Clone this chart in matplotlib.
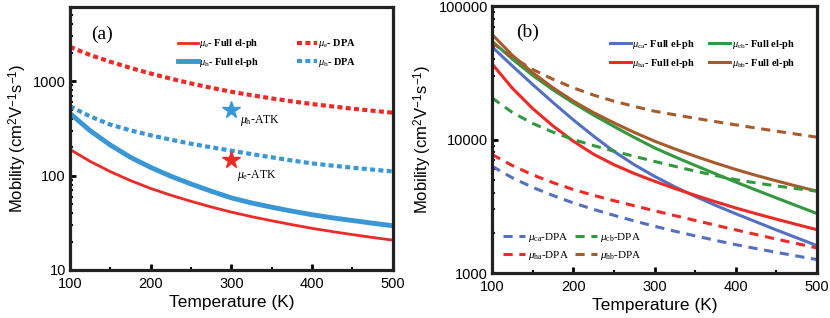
import matplotlib
matplotlib.use("Agg")
import matplotlib.pyplot as plt
from matplotlib.ticker import LogLocator, MultipleLocator, NullFormatter, FuncFormatter

plt.rcParams["font.family"] = "Liberation Sans"
plt.rcParams["mathtext.fontset"] = "custom"
plt.rcParams["mathtext.rm"] = "Liberation Serif"
plt.rcParams["mathtext.it"] = "Liberation Serif:italic"
plt.rcParams["mathtext.bf"] = "Liberation Serif:bold"
plt.rcParams["mathtext.sf"] = "Liberation Sans"

# temperature grid (K)
T = [100, 125, 150, 175, 200, 225, 250, 275, 300, 325, 350, 375, 400, 425, 450, 475, 500]

# panel (a), mobility in cm2/Vs
a_e_full = [189, 141.4, 110.1, 88.5, 73.0, 61.9, 53.4, 46.5, 41.0, 36.7, 33.2, 30.2, 27.6, 25.5, 23.7, 22.1, 20.7]
a_h_full = [455, 298.9, 210.6, 156.0, 122.0, 98.4, 81.4, 68.3, 58.0, 51.3, 46.2, 42.0, 38.5, 35.7, 33.4, 31.3, 29.4]
a_e_dpa = [2307, 1889, 1603, 1380, 1203, 1061, 945, 850, 772, 709, 656, 611, 572, 540, 511, 486, 463]
a_h_dpa = [543, 422.9, 346.2, 301.0, 267.0, 239.7, 217.3, 199.0, 183.3, 168.7, 155.9, 144.5, 134.5, 127.4, 121.2, 115.6, 110.5]
atk_T = [300]
atk_h = [493]
atk_e = [146]

# panel (b)
b_ca_full = [49500, 35590, 25840, 18950, 14040, 10600, 8150, 6480, 5300, 4420, 3752, 3213, 2779, 2416, 2100, 1835, 1603]
b_ha_full = [36900, 24240, 17080, 12650, 9716, 7758, 6480, 5566, 4868, 4296, 3822, 3417, 3070, 2781, 2531, 2309, 2110]
b_cb_full = [54600, 40040, 30260, 23570, 18800, 15240, 12540, 10370, 8662, 7418, 6397, 5534, 4801, 4182, 3650, 3189, 2789]
b_hb_full = [61300, 42770, 31680, 24430, 19410, 15890, 13340, 11310, 9725, 8497, 7499, 6664, 5964, 5386, 4898, 4472, 4103]
b_ca_dpa = [6310, 5166, 4380, 3808, 3351, 2996, 2705, 2455, 2241, 2056, 1898, 1756, 1631, 1524, 1428, 1341, 1262]
b_ha_dpa = [7720, 6384, 5440, 4753, 4220, 3818, 3483, 3190, 2927, 2691, 2477, 2282, 2104, 1942, 1795, 1662, 1540]
b_cb_dpa = [20500, 15970, 13200, 11360, 9997, 9000, 8185, 7480, 6857, 6298, 5802, 5372, 5009, 4727, 4492, 4286, 4101]
b_hb_dpa = [53100, 41350, 33520, 28280, 24390, 21520, 19380, 17710, 16300, 15320, 14430, 13620, 12880, 12190, 11550, 10960, 10410]

RED = "#ee2a27"
BLUE_A = "#3a97d6"
BLUE_B = "#5470c2"
GREEN = "#33993f"
BROWN = "#a65b2c"

YLABEL = r"Mobility (cm$^{\mathsf{2}}$V$^{\mathsf{-1}}$s$^{\mathsf{-1}}$)"


def style_axis(ax, ylim):
    ax.set_yscale("log")
    ax.set_xlim(100, 500)
    ax.set_ylim(*ylim)
    for sp in ax.spines.values():
        sp.set_linewidth(2.3)
        sp.set_color("#222222")
    ax.xaxis.set_major_locator(MultipleLocator(100))
    ax.xaxis.set_minor_locator(MultipleLocator(50))
    ax.yaxis.set_major_locator(LogLocator(base=10))
    ax.yaxis.set_major_formatter(FuncFormatter(lambda v, _: f"{int(round(v))}"))
    ax.yaxis.set_minor_locator(LogLocator(base=10, subs=range(2, 10)))
    ax.yaxis.set_minor_formatter(NullFormatter())
    ax.tick_params(which="both", direction="in", top=False, right=False, labelsize=10.5)
    ax.tick_params(axis="x", pad=5)
    ax.tick_params(axis="y", pad=3)
    ax.tick_params(which="major", length=4, width=2)
    ax.tick_params(which="minor", length=2.5, width=1.5)
    ax.set_xlabel("Temperature (K)", fontsize=12.5, labelpad=3)
    ax.set_ylabel(YLABEL, fontsize=12, labelpad=3)


fig = plt.figure(figsize=(8.3, 3.18), dpi=100)
ax1 = fig.add_axes([0.0843, 0.151, 0.389, 0.827])
ax2 = fig.add_axes([0.5928, 0.1415, 0.3916, 0.8395])

# ---- panel (a)
ax1.plot(T, a_e_full, color=RED, lw=2.0, label=r"$\mu_{\mathrm{e}}$- Full el-ph")
ax1.plot(T, a_h_full, color=BLUE_A, lw=3.5, label=r"$\mu_{\mathrm{h}}$- Full el-ph")
ax1.plot(T, a_e_dpa, color=RED, lw=3.0, ls=(0, (1.2, 0.8)), label=r"$\mu_{\mathrm{e}}$- DPA")
ax1.plot(T, a_h_dpa, color=BLUE_A, lw=3.0, ls=(0, (1.2, 0.8)), label=r"$\mu_{\mathrm{h}}$- DPA")
ax1.plot(atk_T, atk_h, marker="*", ms=13, color=BLUE_A, ls="none")
ax1.plot(atk_T, atk_e, marker="*", ms=13, color=RED, ls="none")
ax1.annotate(r"$\mu_{\mathrm{h}}$-ATK", (atk_T[0], atk_h[0]), xytext=(6, -9),
             textcoords="offset points", fontsize=8.5, family="Liberation Serif")
ax1.annotate(r"$\mu_{\mathrm{e}}$-ATK", (atk_T[0], atk_e[0]), xytext=(4, -13),
             textcoords="offset points", fontsize=8.5, family="Liberation Serif")
style_axis(ax1, (10, 6100))
ax1.text(0.065, 0.93, "(a)", transform=ax1.transAxes, fontsize=14,
         family="Liberation Serif", va="top")
ax1.legend(ncol=2, loc="upper left", bbox_to_anchor=(0.335, 0.885), frameon=False,
           borderaxespad=0, borderpad=0,
           prop={"family": "Liberation Serif", "weight": "bold", "size": 7.5},
           handlelength=1.9, handletextpad=0.15, columnspacing=3.6, labelspacing=0.55)

# ---- panel (b)
l_ca, = ax2.plot(T, b_ca_full, color=BLUE_B, lw=2.2, label=r"$\mu_{\mathrm{ca}}$- Full el-ph")
l_ha, = ax2.plot(T, b_ha_full, color=RED, lw=2.2, label=r"$\mu_{\mathrm{ha}}$- Full el-ph")
l_cb, = ax2.plot(T, b_cb_full, color=GREEN, lw=2.2, label=r"$\mu_{\mathrm{cb}}$- Full el-ph")
l_hb, = ax2.plot(T, b_hb_full, color=BROWN, lw=2.2, label=r"$\mu_{\mathrm{hb}}$- Full el-ph")
dash = (0, (3.0, 2.2))
d_ca, = ax2.plot(T, b_ca_dpa, color=BLUE_B, lw=2.2, ls=dash, label=r"$\mu_{\mathrm{ca}}$-DPA")
d_ha, = ax2.plot(T, b_ha_dpa, color=RED, lw=2.2, ls=dash, label=r"$\mu_{\mathrm{ha}}$-DPA")
d_cb, = ax2.plot(T, b_cb_dpa, color=GREEN, lw=2.2, ls=dash, label=r"$\mu_{\mathrm{cb}}$-DPA")
d_hb, = ax2.plot(T, b_hb_dpa, color=BROWN, lw=2.2, ls=dash, label=r"$\mu_{\mathrm{hb}}$-DPA")
style_axis(ax2, (1000, 100000))
ax2.text(0.075, 0.935, "(b)", transform=ax2.transAxes, fontsize=14,
         family="Liberation Serif", va="top")
leg1 = ax2.legend(handles=[l_ca, l_ha, l_cb, l_hb], ncol=2, loc="upper left",
                  bbox_to_anchor=(0.363, 0.88), frameon=False,
                  borderaxespad=0, borderpad=0,
                  prop={"family": "Liberation Serif", "weight": "bold", "size": 7.5},
                  handlelength=2.0, handletextpad=0.15, columnspacing=1.3, labelspacing=0.55)
ax2.add_artist(leg1)
ax2.legend(handles=[d_ca, d_ha, d_cb, d_hb], ncol=2, loc="lower left",
           bbox_to_anchor=(0.034, 0.04), frameon=False,
           borderaxespad=0, borderpad=0,
           prop={"family": "Liberation Serif", "size": 8},
           handlelength=2.0, handletextpad=0.2, columnspacing=0.6, labelspacing=0.5)

fig.savefig("out.png", dpi=100)
